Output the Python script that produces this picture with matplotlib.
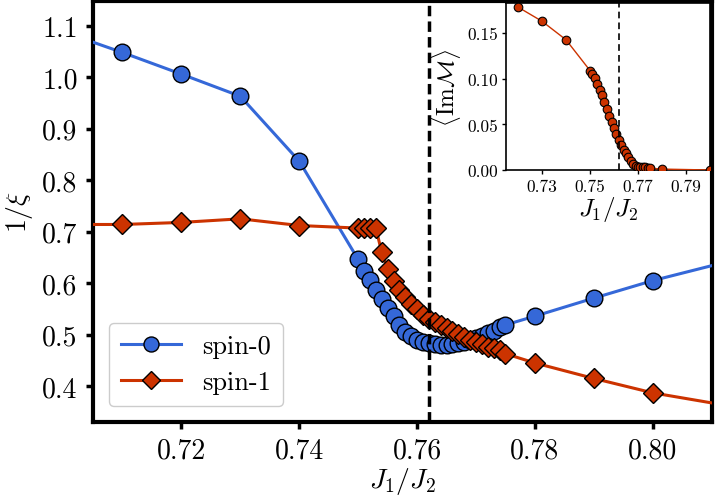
import matplotlib
matplotlib.use("Agg")
import matplotlib.pyplot as plt
import numpy as np

plt.rcParams['font.family'] = 'serif'
plt.rcParams['font.serif'] = ['cmr10', 'DejaVu Serif']
plt.rcParams['mathtext.fontset'] = 'cm'
plt.rcParams['axes.formatter.use_mathtext'] = True

# ---- data (main panel) ----
x_coarse_lo = [0.70, 0.71, 0.72, 0.73, 0.74]
x_dense = [0.750, 0.751, 0.752, 0.753, 0.754, 0.755, 0.756, 0.757, 0.758, 0.759,
           0.760, 0.761, 0.762, 0.763, 0.764, 0.765, 0.766, 0.767, 0.768, 0.769,
           0.770, 0.771, 0.772, 0.773, 0.774, 0.775]
x_coarse_hi = [0.78, 0.79, 0.80, 0.82]

spin0_lo = [1.088, 1.048, 1.006, 0.963, 0.837]
spin0_dense = [0.646, 0.624, 0.607, 0.587, 0.569, 0.552, 0.536, 0.519, 0.506, 0.497,
               0.490, 0.486, 0.483, 0.481, 0.480, 0.480, 0.481, 0.483, 0.486, 0.490,
               0.494, 0.498, 0.503, 0.508, 0.514, 0.519]
spin0_hi = [0.536, 0.571, 0.605, 0.663]

spin1_lo = [0.714, 0.714, 0.718, 0.725, 0.712]
spin1_dense = [0.707, 0.707, 0.707, 0.707, 0.660, 0.628, 0.605, 0.587, 0.573, 0.560,
               0.549, 0.538, 0.531, 0.524, 0.518, 0.512, 0.507, 0.501, 0.496, 0.490,
               0.486, 0.481, 0.477, 0.474, 0.470, 0.463]
spin1_hi = [0.445, 0.415, 0.387, 0.348]

x_crit = 0.762

# ---- data (inset) ----
xi = [0.72, 0.73, 0.74] + x_dense + [0.78, 0.80]
imM = [0.1785, 0.163, 0.1427,
       0.109, 0.1054, 0.1006, 0.0944, 0.0882, 0.0823, 0.075, 0.067, 0.059, 0.0523,
       0.0457, 0.0395, 0.0333, 0.0274, 0.0223, 0.0183, 0.0139, 0.0102, 0.0066, 0.0047,
       0.0036, 0.0035, 0.0033, 0.003, 0.0025, 0.002,
       0.001, 0.0]

xticks_main = [0.72, 0.74, 0.76, 0.78, 0.80]
yticks_main = [0.4, 0.5, 0.6, 0.7, 0.8, 0.9, 1.0, 1.1]
xticks_inset = [0.73, 0.75, 0.77, 0.79]
yticks_inset = [0.00, 0.05, 0.10, 0.15]

blue = '#3568d8'
red = '#cc3300'

x_all = x_coarse_lo + x_dense + x_coarse_hi
s0 = spin0_lo + spin0_dense + spin0_hi
s1 = spin1_lo + spin1_dense + spin1_hi

fig = plt.figure(figsize=(7.15, 5.02), dpi=100)
ax = fig.add_axes([93/715, 1 - 422.7/502, 618.7/715, 420.7/502])

ax.plot(x_all, s0, '-o', color=blue, lw=2.2, ms=12, mfc=blue, mec='black',
        mew=1.0, label='spin-0', zorder=3)
ax.plot(x_all, s1, '-D', color=red, lw=2.2, ms=10, mfc=red, mec='black',
        mew=1.0, label='spin-1', zorder=3)
ax.axvline(x_crit, color='black', lw=2.5, dashes=(3, 1.5), zorder=4)

ax.set_xlim(0.705, 0.81)
ax.set_ylim(0.331, 1.148)
ax.set_xticks(xticks_main)
ax.set_xticklabels([f'{v:.2f}' for v in xticks_main])
ax.set_yticks(yticks_main)
ax.set_yticklabels([f'{v:.1f}' for v in yticks_main])
ax.tick_params(direction='out', length=5, width=2.5, labelsize=20, pad=6,
               top=False, right=False)
for sp in ax.spines.values():
    sp.set_linewidth(3)
ax.set_xlabel(r'$J_1/J_2$', fontsize=20, labelpad=1)
ax.set_ylabel(r'$1/\xi$', fontsize=20, labelpad=5)

leg = ax.legend(loc='lower left', fontsize=19, handlelength=2.3,
                handletextpad=0.8, borderaxespad=0.6, labelspacing=0.45,
                markerscale=0.9, framealpha=1.0, edgecolor='#cccccc',
                fancybox=True, borderpad=0.45)

# ---- inset ----
ins = fig.add_axes([506/715, 1 - 171/502, 204/715, 167/502])
ins.plot(xi, imM, '-o', color=red, lw=1.0, ms=6.2, mfc=red, mec='black',
         mew=0.8, zorder=3, clip_on=True)
ins.axvline(x_crit, color='black', lw=1.2, dashes=(4, 2.5), zorder=4)
ins.set_xlim(0.715, 0.80)
ins.set_ylim(0.0, 0.183)
ins.set_xticks(xticks_inset)
ins.set_xticklabels([f'{v:.2f}' for v in xticks_inset])
ins.set_yticks(yticks_inset)
ins.set_yticklabels([f'{v:.2f}' for v in yticks_inset])
ins.tick_params(direction='out', length=3, width=1.0, labelsize=12.5, pad=3)
for sp in ins.spines.values():
    sp.set_linewidth(1.2)
ins.set_xlabel(r'$J_1/J_2$', fontsize=18, labelpad=0)
ins.set_ylabel(r'$\langle \mathrm{Im}\mathcal{M}\rangle$', fontsize=17, labelpad=3)

fig.savefig('out.png', dpi=100)
